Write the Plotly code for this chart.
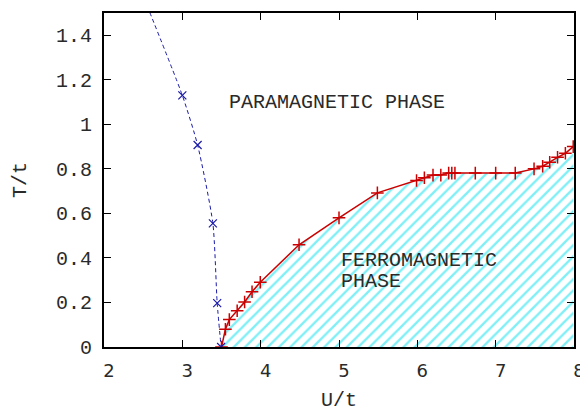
import plotly.graph_objects as go

# Paramagnetic boundary (blue, dashed)
u_para = [2.45, 3.0, 3.195, 3.39, 3.445, 3.495]
t_para = [1.62, 1.13, 0.907, 0.555, 0.197, 0.0]

# Ferromagnetic boundary (red)
u_ferro = [3.50, 3.55, 3.60, 3.70, 3.795, 3.89, 3.995, 4.49, 5.0, 5.49, 5.99, 6.09, 6.20,
           6.30, 6.40, 6.44, 6.48, 6.74, 7.0, 7.25, 7.49, 7.60, 7.69, 7.79, 7.89, 7.99]
t_ferro = [0.0, 0.08, 0.123, 0.163, 0.202, 0.248, 0.291, 0.459, 0.58, 0.692, 0.748, 0.760, 0.772,
           0.772, 0.781, 0.781, 0.781, 0.781, 0.781, 0.781, 0.80, 0.812, 0.83, 0.852, 0.870, 0.90]

x_ticks = [2, 3, 4, 5, 6, 7, 8]
y_ticks = [0, 0.2, 0.4, 0.6, 0.8, 1, 1.2, 1.4]
y_tick_text = ["0", "0.2", "0.4", "0.6", "0.8", "1", "1.2", "1.4"]

MONO = "Liberation Mono, DejaVu Sans Mono, monospace"
SANS = "DejaVu Sans, sans-serif"
TXT = "#2a2a2a"

fig = go.Figure()

fig.add_trace(go.Scatter(
    x=u_ferro, y=t_ferro, mode="lines+markers",
    line=dict(color="#cc0000", width=1.5),
    marker=dict(symbol="cross-thin", size=9, line=dict(color="#cc0000", width=1.5)),
    fill="tozeroy", fillcolor="rgba(0,0,0,0)",
    fillpattern=dict(shape="/", fgcolor="#00e0ee", bgcolor="rgba(0,0,0,0)", size=8, solidity=0.3),
    showlegend=False,
))

fig.add_trace(go.Scatter(
    x=u_para, y=t_para, mode="lines+markers",
    line=dict(color="#1a1aaa", width=1, dash="4px,3px", shape="spline", smoothing=0.6),
    marker=dict(symbol="x-thin", size=8, line=dict(color="#1a1aaa", width=1.2)),
    showlegend=False, cliponaxis=True,
))

fig.add_annotation(x=4.97, y=1.096, text="PARAMAGNETIC PHASE", showarrow=False,
                   font=dict(family=MONO, size=20, color=TXT))
fig.add_annotation(x=5.0, y=0.39, text="FERROMAGNETIC", showarrow=False,
                   xanchor="left", yanchor="middle",
                   font=dict(family=MONO, size=20, color=TXT))
fig.add_annotation(x=5.0, y=0.296, text="PHASE", showarrow=False,
                   xanchor="left", yanchor="middle",
                   font=dict(family=MONO, size=20, color=TXT))

axis_common = dict(showgrid=False, zeroline=False, showline=True, linecolor="black",
                   linewidth=2, mirror="allticks", ticks="inside", ticklen=7,
                   tickcolor="black", tickwidth=1)

fig.update_xaxes(range=[2, 8], tickvals=x_ticks,
                 tickfont=dict(family=SANS, size=18, color=TXT),
                 ticklabelstandoff=6, ticklabelshift=5,
                 title=dict(text="U/t", font=dict(family=MONO, size=20, color=TXT), standoff=14),
                 **axis_common)
fig.update_yaxes(range=[0, 1.5], tickvals=y_ticks, ticktext=y_tick_text,
                 tickfont=dict(family=MONO, size=20, color=TXT),
                 ticklabelstandoff=6,
                 title=dict(text="T/t", font=dict(family=MONO, size=20, color=TXT), standoff=24),
                 **axis_common)

# page body has an 8px margin, so the figure is offset by 8px
fig.update_layout(width=580, height=404,
                  margin=dict(l=96, r=11, t=3, b=64),
                  plot_bgcolor="white", paper_bgcolor="white")

fig.write_html("out.html")
